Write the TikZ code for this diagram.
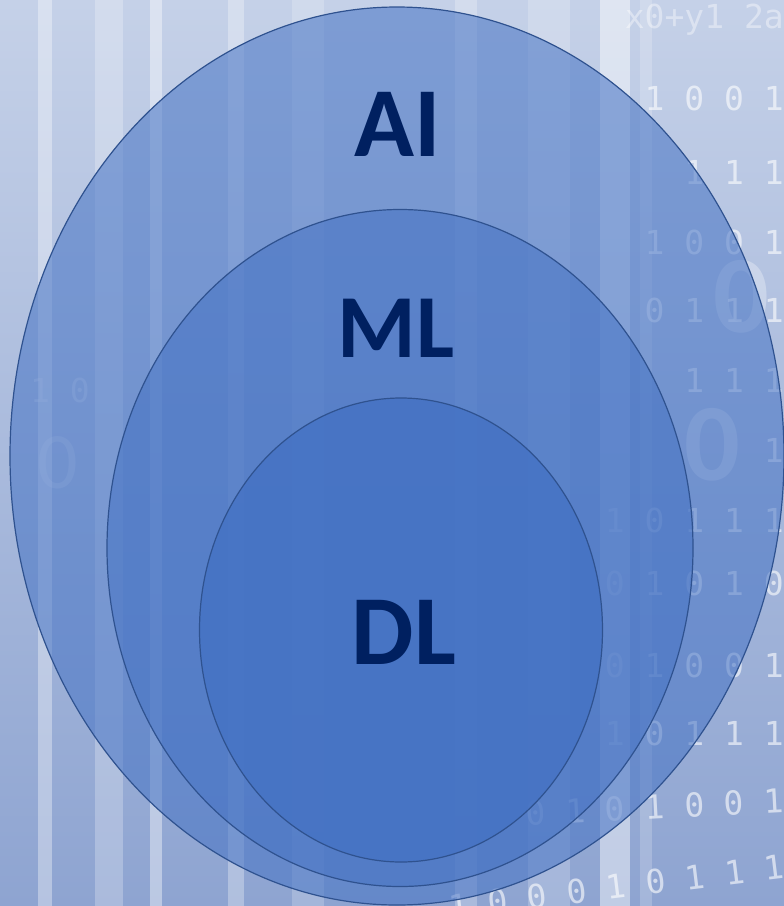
\documentclass[tikz,border=0pt]{standalone}
\usepackage{fontspec}
\setmainfont{Carlito}
\setmonofont{DejaVu Sans Mono}
\usetikzlibrary{shapes.geometric}
\definecolor{setfill}{HTML}{4472C4}
\definecolor{setline}{HTML}{2F528F}
\definecolor{setlabel}{HTML}{002060}
\definecolor{bgtop}{HTML}{C5D1E8}
\definecolor{bgbot}{HTML}{8EA4D1}
\begin{document}
\begin{tikzpicture}[x=1pt,y=-1pt,
	set/.style={ellipse,draw=setline,line width=1.2pt,fill=setfill,fill opacity=0.55,inner sep=0pt},
	setname/.style={font=\fontsize{99}{99}\selectfont\bfseries,text=setlabel},
	bits/.style={font=\ttfamily\fontsize{33}{33}\selectfont,text=white,opacity=0.6,anchor=east,inner sep=0pt},
	bigbit/.style={font=\fontsize{110}{110}\selectfont\bfseries,text=white,opacity=0.3,inner sep=0pt}]
	\useasboundingbox (0,0) rectangle (784,906);
	\begin{scope}
	\clip (0,0) rectangle (784,906);
	% background
	\shade[top color=bgtop,bottom color=bgbot] (0,0) rectangle (784,906);
	\foreach \x/\w/\o in {38/14/0.35, 95/28/0.25, 150/12/0.4, 228/16/0.3, 292/32/0.2, 455/22/0.25, 528/42/0.2, 600/30/0.45, 640/12/0.2}
		\fill[white,opacity=\o] (\x,0) rectangle ++(\w,906);
	\node[bits,opacity=0.4] (row0) at (784,20) {x0+y1 2a};
	\node[bits] (row1) at (784,98) {1 0 0 1};
	\node[bits] (row2) at (784,172) {1 1 1};
	\node[bits] (row3) at (784,242) {1 0 0 1};
	\node[bits] (row4) at (784,310) {0 1 1 1};
	\node[bits] (row5) at (784,380) {1 1 1};
	\node[bits] (row6) at (784,450) {1};
	\node[bits] (row7) at (784,520) {1 0 1 1 1};
	\node[bits] (row8) at (784,583) {0 1 0 1 0};
	\node[bits] (row9) at (784,665) {0 1 0 0 1};
	\node[bits] (row10) at (784,733) {1 0 1 1 1};
	\node[bits,rotate=3] (row11) at (784,800) {0 1 0 1 0 0 1};
	\node[bits,rotate=7] (row12) at (784,866) {1 0 0 0 1 0 1 1 1};
	\node[bigbit] (big1) at (741,297) {0};
	\node[bigbit] (big2) at (712,445) {0};
	\node[bits,anchor=center,opacity=0.25] (left1) at (60,390) {1 0};
	\node[bigbit,opacity=0.2,font=\fontsize{80}{80}\selectfont] (left2) at (58,463) {0};
	\end{scope}
	% sets
	\node[set,minimum width=774pt,minimum height=898pt] (ai) at (397,456) {};
	\node[set,minimum width=586pt,minimum height=677pt] (ml) at (400,548) {};
	\node[set,fill opacity=0.8,minimum width=403pt,minimum height=464pt] (dl) at (401,630) {};
	\node[setname] (ailabel) at (398,124) {AI};
	\node[setname,font=\fontsize{90}{90}\selectfont\bfseries] (mllabel) at (396,328) {ML};
	\node[setname] (dllabel) at (404,632) {DL};
\end{tikzpicture}
\end{document}
